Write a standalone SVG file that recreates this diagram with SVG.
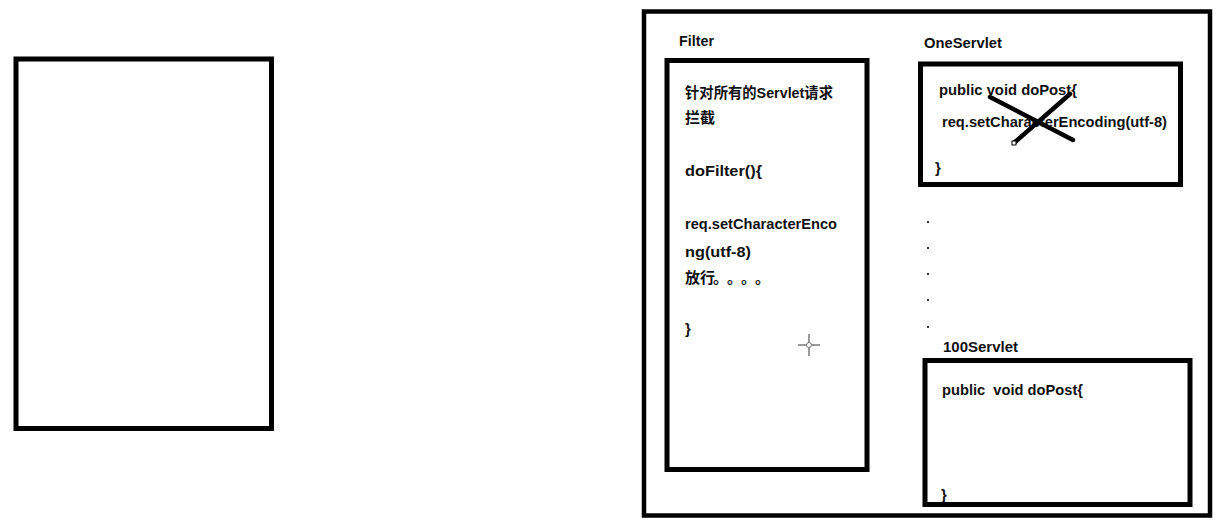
<svg xmlns="http://www.w3.org/2000/svg" width="1224" height="530" viewBox="0 0 1224 530">
<style>
.box{fill:#fff;stroke:#000;stroke-width:5}
.outer{fill:#fff;stroke:#000;stroke-width:4.5}
.t{font-family:"Liberation Sans","Noto Sans CJK SC",sans-serif;font-weight:bold;font-size:15px;fill:#111}
.dot{fill:#333}
.cross{stroke:#000;stroke-width:4.5;stroke-linecap:round}
.cur{stroke:#777;stroke-width:1.5}
</style>
<rect width="1224" height="530" fill="#fff"/>
<g id="left-box">
<rect class="box" x="16" y="59" width="255.5" height="369.5"/>
</g>
<g id="container">
<rect class="outer" x="644" y="11.5" width="566" height="504"/>
</g>
<g id="filter">
<text class="t" x="679" y="46" textLength="35" lengthAdjust="spacingAndGlyphs">Filter</text>
<rect class="box" x="667" y="60.5" width="200" height="409"/>
<text class="t" x="685" y="98" textLength="148" lengthAdjust="spacingAndGlyphs">针对所有的Servlet请求</text>
<text class="t" x="685" y="123">拦截</text>
<text class="t" x="685" y="176" textLength="77" lengthAdjust="spacingAndGlyphs">doFilter(){</text>
<text class="t" x="685" y="229" textLength="152" lengthAdjust="spacingAndGlyphs">req.setCharacterEnco</text>
<text class="t" x="685" y="257" textLength="66" lengthAdjust="spacingAndGlyphs">ng(utf-8)</text>
<text class="t" x="685" y="283">放行<tspan x="713">。</tspan><tspan x="727">。</tspan><tspan x="741">。</tspan><tspan x="755">。</tspan></text>
<text class="t" x="685" y="334">}</text>
<g id="cursor">
<line class="cur" x1="798" y1="345" x2="820" y2="345"/>
<line class="cur" x1="809" y1="334" x2="809" y2="356"/>
<circle cx="809" cy="345" r="2.5" fill="#fff" stroke="#777" stroke-width="1"/>
</g>
</g>
<g id="one-servlet">
<text class="t" x="924" y="48" textLength="78" lengthAdjust="spacingAndGlyphs">OneServlet</text>
<rect class="box" x="920.5" y="64" width="260" height="120.5"/>
<text class="t" x="939" y="95" textLength="138" lengthAdjust="spacingAndGlyphs">public void doPost{</text>
<text class="t" x="942" y="127" textLength="225" lengthAdjust="spacingAndGlyphs">req.setCharacterEncoding(utf-8)</text>
<text class="t" x="935" y="173">}</text>
<line class="cross" x1="990" y1="97" x2="1073" y2="140"/>
<line class="cross" x1="1015" y1="142" x2="1070" y2="94"/>
<rect x="1012" y="141" width="4" height="4" fill="#fff" stroke="#000" stroke-width="1"/>
</g>
<g id="ellipsis">
<rect class="dot" x="927" y="221" width="2" height="2"/>
<rect class="dot" x="927" y="247" width="2" height="2"/>
<rect class="dot" x="927" y="273" width="2" height="2"/>
<rect class="dot" x="927" y="299" width="2" height="2"/>
<rect class="dot" x="927" y="326" width="2" height="2"/>
</g>
<g id="servlet-100">
<text class="t" x="943" y="352" textLength="75" lengthAdjust="spacingAndGlyphs">100Servlet</text>
<rect class="box" x="925" y="360.5" width="265" height="144"/>
<text class="t" x="942" y="395" xml:space="preserve" textLength="141" lengthAdjust="spacingAndGlyphs">public  void doPost{</text>
<text class="t" x="941" y="500">}</text>
</g>
</svg>
